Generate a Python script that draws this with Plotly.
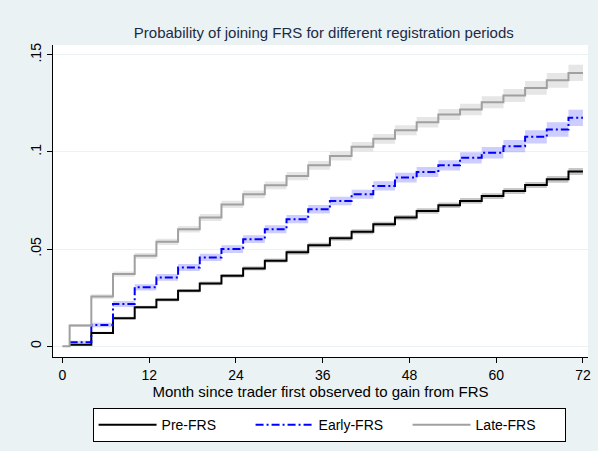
"""Probability of joining FRS - step curves with confidence bands."""
import plotly.graph_objects as go

# month at which each step starts (curves end at month 72)
step_months = [1, 4, 7, 10, 13, 16, 19, 22, 25, 28, 31, 34, 37, 40, 43, 46,
               49, 52, 55, 58, 61, 64, 67, 70]
end_month = 72

pre_frs = [0.0007, 0.0068, 0.0144, 0.0200, 0.0239, 0.0285, 0.0323, 0.0362,
           0.0400, 0.0440, 0.0483, 0.0520, 0.0555, 0.0589, 0.0628, 0.0662,
           0.0696, 0.0726, 0.0748, 0.0773, 0.0799, 0.0830, 0.0859, 0.0899]
early_frs = [0.0020, 0.0109, 0.0217, 0.0303, 0.0354, 0.0405, 0.0457, 0.0500,
             0.0551, 0.0602, 0.0654, 0.0705, 0.0748, 0.0782, 0.0825, 0.0868,
             0.0897, 0.0931, 0.0970, 0.0996, 0.1030, 0.1078, 0.1116, 0.1176]
late_frs = [0.0106, 0.0255, 0.0371, 0.0465, 0.0537, 0.0602, 0.0662, 0.0730,
            0.0782, 0.0828, 0.0876, 0.0931, 0.0979, 0.1027, 0.1068, 0.1112,
            0.1153, 0.1193, 0.1219, 0.1256, 0.1291, 0.1330, 0.1369, 0.1407]

# half width of the confidence band at each step
pre_ci = [0.0004, 0.0006, 0.0007, 0.0008, 0.0009, 0.0009, 0.0010, 0.0010,
          0.0011, 0.0011, 0.0012, 0.0012, 0.0012, 0.0013, 0.0013, 0.0014,
          0.0014, 0.0014, 0.0015, 0.0015, 0.0016, 0.0016, 0.0017, 0.0018]
early_ci = [0.0008, 0.0012, 0.0015, 0.0016, 0.0017, 0.0018, 0.0019, 0.0020,
            0.0020, 0.0021, 0.0021, 0.0022, 0.0022, 0.0023, 0.0024, 0.0025,
            0.0026, 0.0027, 0.0029, 0.0030, 0.0032, 0.0034, 0.0037, 0.0042]
late_ci = [0.0008, 0.0012, 0.0014, 0.0015, 0.0016, 0.0017, 0.0018, 0.0019,
           0.0020, 0.0020, 0.0021, 0.0022, 0.0023, 0.0024, 0.0025, 0.0026,
           0.0027, 0.0028, 0.0030, 0.0031, 0.0033, 0.0035, 0.0038, 0.0042]

x_ticks = [0, 12, 24, 36, 48, 60, 72]
y_ticks = [0, 0.05, 0.1, 0.15]
y_ticklabels = ["0", ".05", ".1", ".15"]

BG = "#EAF2F3"
FONT = "Liberation Sans, Arial, sans-serif"

fig = go.Figure()


def add_series(name, vals, ci, color, band, dash, start_zero=False):
    x = step_months + [end_month]
    y = vals + [vals[-1]]
    lo = [v - c for v, c in zip(vals, ci)]
    hi = [v + c for v, c in zip(vals, ci)]
    lo = lo + [lo[-1]]
    hi = hi + [hi[-1]]
    fig.add_trace(go.Scatter(x=x, y=lo, mode="lines", line=dict(width=0, shape="hv"),
                             showlegend=False, hoverinfo="skip"))
    fig.add_trace(go.Scatter(x=x, y=hi, mode="lines", line=dict(width=0, shape="hv"),
                             fill="tonexty", fillcolor=band, showlegend=False, hoverinfo="skip"))
    if start_zero:
        x = [0] + x
        y = [0] + y
    fig.add_trace(go.Scatter(x=x, y=y, mode="lines", name=name,
                             line=dict(color=color, width=2, shape="hv", dash=dash)))


add_series("Pre-FRS", pre_frs, pre_ci, "#000000", "rgba(0,0,0,0.22)", "solid")
add_series("Early-FRS", early_frs, early_ci, "#0000FF", "rgba(90,90,255,0.3)", "8px,3px,2px,3px")
add_series("Late-FRS", late_frs, late_ci, "#A0A0A0", "rgba(200,200,200,0.45)", "solid", start_zero=True)

fig.update_layout(
    width=598, height=451,
    paper_bgcolor=BG, plot_bgcolor="white",
    font=dict(family=FONT, size=14, color="#000000"),
    title=dict(text="Probability of joining FRS for different registration periods",
               x=0.5415, xanchor="center", y=0.927, yanchor="middle",
               font=dict(size=15, color="#1C2A48")),
    margin=dict(l=53, r=10, t=45, b=93),
    xaxis=dict(range=[-1.3, 72.7], tickvals=x_ticks, showgrid=False, zeroline=False,
               showline=True, linecolor="#000000", linewidth=1, automargin=False,
               ticks="outside", ticklen=5, tickcolor="#000000",
               title=dict(text="Month since trader first observed to gain from FRS",
                          standoff=0, font=dict(size=15))),
    yaxis=dict(range=[-0.0056, 0.1551], tickvals=y_ticks, ticktext=y_ticklabels,
               tickangle=-90, showgrid=True, gridcolor=BG, gridwidth=1, zeroline=False,
               showline=True, linecolor="#000000", linewidth=1, automargin=False,
               ticks="outside", ticklen=5, tickcolor="#000000"),
    legend=dict(orientation="h", x=0.516, xanchor="center", y=-0.16, yanchor="top",
                bgcolor="white", bordercolor="#000000", borderwidth=1, traceorder="normal",
                itemwidth=58, entrywidth=84, font=dict(size=14)),
    showlegend=True,
)

fig.write_html("out.html", config={"displayModeBar": False},
               post_script="document.body.style.margin='0';")
